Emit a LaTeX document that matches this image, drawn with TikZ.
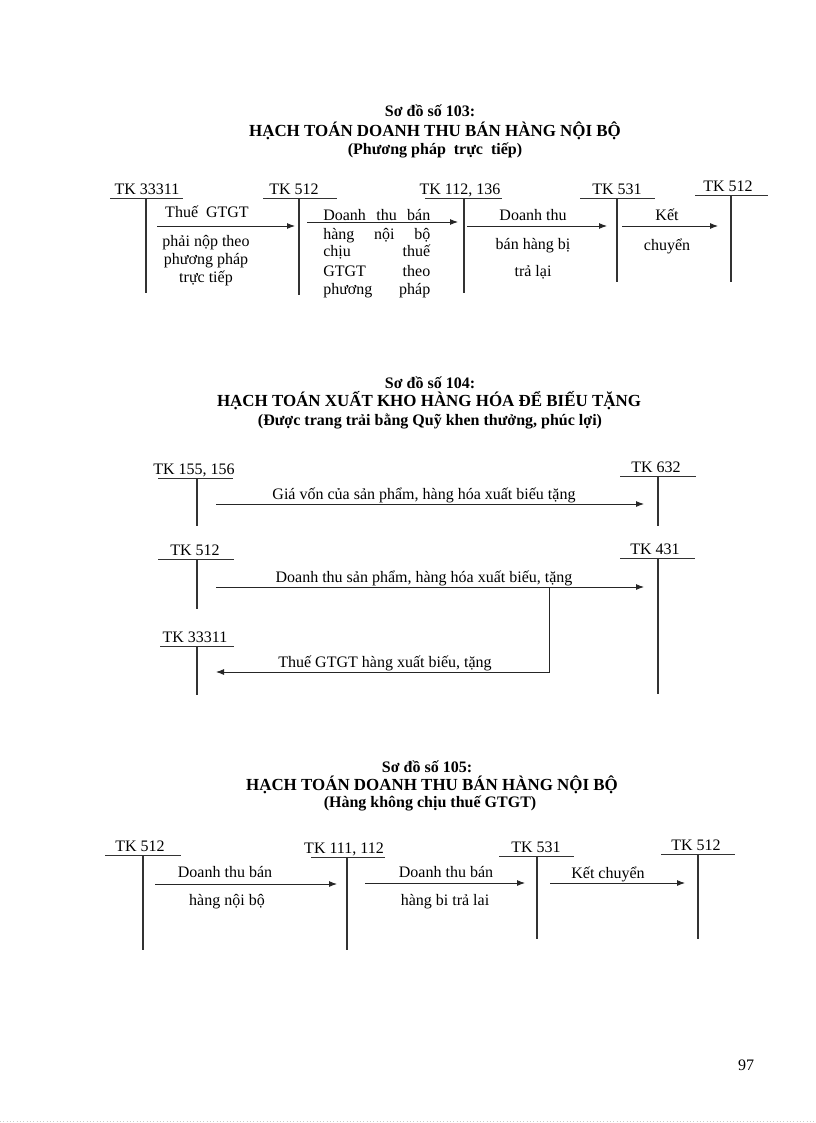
\documentclass[tikz,border=0pt]{standalone}
\usepackage{fontspec}
\setmainfont{Liberation Serif}
\usetikzlibrary{arrows.meta}
\newcommand\tacc[8]{%
  \node[lbl] (#1-l) at (#3,#6-4) {#2};
  \coordinate (#1-ul) at (#4,#6);
  \coordinate (#1-ur) at (#5,#6);
  \coordinate (#1-t) at (#7,#6);
  \coordinate (#1-b) at (#7,#8);
  \draw[uline] (#1-ul) -- (#1-ur);
  \draw[tline] (#1-t) -- (#1-b);
}
\begin{document}
\begin{tikzpicture}[x=0.75pt,y=-0.75pt,
  lbl/.style={font=\fontsize{12}{14}\selectfont, inner sep=0pt, anchor=base},
  jst/.style={font=\fontsize{12}{14}\selectfont, inner sep=0pt, anchor=base west},
  ttl/.style={font=\bfseries\fontsize{12}{14}\selectfont, inner sep=0pt, anchor=base},
  hdg/.style={font=\bfseries\fontsize{12.7}{14}\selectfont, inner sep=0pt, anchor=base},
  tline/.style={line width=0.9pt, draw=black!80},
  uline/.style={line width=0.75pt, draw=black!80},
  arr/.style={line width=0.7pt, draw=black!85, -{Latex[length=6pt,width=4.5pt]}}]
\useasboundingbox (0,0) rectangle (816,1123);
\fill[white] (0,0) rectangle (816,1123);

% ---------------- Diagram 103 ----------------
\node[ttl] (t103a) at (430,117) {Sơ đồ số 103:};
\node[hdg] (t103b) at (435,137) {HẠCH TOÁN DOANH THU BÁN HÀNG NỘI BỘ};
\node[ttl] (t103c) at (435,155) {(Phương pháp \ trực \ tiếp)};

\tacc{a1}{TK 33311}{147}{110}{183}{199}{146}{293}
\tacc{a2}{TK 512}{294}{263}{337}{199}{299}{295}
\tacc{a3}{TK 112, 136}{460}{425}{502}{199}{464}{293}
\tacc{a4}{TK 531}{617}{580}{655}{199}{617}{282}
\tacc{a5}{TK 512}{728}{695}{768}{196}{731}{282}

\coordinate (e1s) at (157,226); \coordinate (e1e) at (295,226);
\draw[arr] (e1s) -- (e1e);
\node[lbl] (x1a) at (207,218) {Thuế \ GTGT};
\node[lbl] (x1b) at (206,246) {phải nộp theo};
\node[lbl] (x1c) at (206,264) {phương pháp};
\node[lbl] (x1d) at (206,282) {trực tiếp};

\coordinate (e2s) at (307,222); \coordinate (e2e) at (458,222);
\draw[arr] (e2s) -- (e2e);
\node[jst] (x2a) at (323,220) {\makebox[80.25pt][s]{Doanh\hfill thu\hfill bán}};
\node[jst] (x2b) at (323,239) {\makebox[80.25pt][s]{hàng\hfill nội\hfill bộ}};
\node[jst] (x2c) at (323,257) {\makebox[80.25pt][s]{chịu\hfill thuế}};
\node[jst] (x2d) at (323,276) {\makebox[80.25pt][s]{GTGT\hfill theo}};
\node[jst] (x2e) at (323,294) {\makebox[80.25pt][s]{phương\hfill pháp}};

\coordinate (e3s) at (467,226); \coordinate (e3e) at (607,226);
\draw[arr] (e3s) -- (e3e);
\node[lbl] (x3a) at (533,221) {Doanh thu};
\node[lbl] (x3b) at (533,249) {bán hàng bị};
\node[lbl] (x3c) at (533,276) {trả lại};

\coordinate (e4s) at (622,226); \coordinate (e4e) at (718,226);
\draw[arr] (e4s) -- (e4e);
\node[lbl] (x4a) at (667,221) {Kết};
\node[lbl] (x4b) at (667,250) {chuyển};

% ---------------- Diagram 104 ----------------
\node[ttl] (t104a) at (430,388) {Sơ đồ số 104:};
\node[hdg] (t104b) at (429,406) {HẠCH TOÁN XUẤT KHO HÀNG HÓA ĐỂ BIẾU TẶNG};
\node[ttl] (t104c) at (430,425) {(Được trang trải bằng Quỹ khen thưởng, phúc lợi)};

\tacc{b1}{TK 155, 156}{194}{158}{233}{478}{197}{526}
\tacc{b2}{TK 632}{656}{620}{696}{476}{658}{526}
\tacc{b3}{TK 512}{195}{158}{234}{559}{197}{609}
\tacc{b4}{TK 431}{655}{620}{695}{558}{658}{694}
\tacc{b5}{TK 33311}{195}{160}{234}{646}{197}{695}

\coordinate (f1s) at (216,504); \coordinate (f1e) at (644,504);
\draw[arr] (f1s) -- (f1e);
\node[lbl] (y1) at (424,499) {Giá vốn của sản phẩm, hàng hóa xuất biếu tặng};

\coordinate (f2s) at (216,587); \coordinate (f2e) at (644,587);
\draw[arr] (f2s) -- (f2e);
\node[lbl] (y2) at (424,582) {Doanh thu sản phẩm, hàng hóa xuất biếu, tặng};

\coordinate (br) at (549,587); \coordinate (bk) at (549,672); \coordinate (f3e) at (216,672);
\draw[arr] (br) -- (bk) -- (f3e);
\node[lbl] (y3) at (385,667) {Thuế GTGT hàng xuất biếu, tặng};

% ---------------- Diagram 105 ----------------
\node[ttl] (t105a) at (427,772) {Sơ đồ số 105:};
\node[hdg] (t105b) at (432,790) {HẠCH TOÁN DOANH THU BÁN HÀNG NỘI BỘ};
\node[ttl] (t105c) at (430,807) {(Hàng không chịu thuế GTGT)};

\tacc{c1}{TK 512}{140}{105}{181}{855}{143}{950}
\tacc{c2}{TK 111, 112}{344}{311}{385}{857}{347}{950}
\tacc{c3}{TK 531}{536}{499}{574}{856}{537}{939}
\tacc{c4}{TK 512}{696}{661}{735}{854}{698}{939}

\coordinate (g1s) at (155,884); \coordinate (g1e) at (337,884);
\draw[arr] (g1s) -- (g1e);
\node[lbl] (z1a) at (225,877) {Doanh thu bán};
\node[lbl] (z1b) at (227,905) {hàng nội bộ};

\coordinate (g2s) at (365,883); \coordinate (g2e) at (525,883);
\draw[arr] (g2s) -- (g2e);
\node[lbl] (z2a) at (446,877) {Doanh thu bán};
\node[lbl] (z2b) at (445,905) {hàng bi trả lai};

\coordinate (g3s) at (550,883); \coordinate (g3e) at (685,883);
\draw[arr] (g3s) -- (g3e);
\node[lbl] (z3) at (608,878) {Kết chuyển};

% page number
\node[lbl] (pg) at (746,1070) {97};
\coordinate (bl) at (0,1121); \coordinate (brr) at (816,1121);
\draw[black!20, line width=0.5pt, dotted] (bl) -- (brr);
\end{tikzpicture}
\end{document}
